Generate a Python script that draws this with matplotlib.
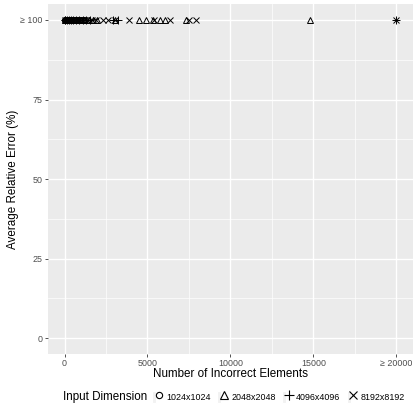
import matplotlib
matplotlib.use("Agg")
import matplotlib.pyplot as plt
from matplotlib.lines import Line2D
from matplotlib.patches import Rectangle
from matplotlib.legend_handler import HandlerTuple

plt.rcParams['font.family'] = ['Liberation Sans', 'DejaVu Sans']

# incorrect elements per run (capped at 20000), average relative error (capped at 100)
inc_1024 = [0, 15, 30, 50, 70, 95, 120, 150, 180, 210, 240, 270, 300, 340, 380, 420,
            460, 500, 550, 600, 650, 700, 760, 820, 880, 940, 1000, 1080, 1160, 1250, 1350]
err_1024 = [100] * len(inc_1024)
inc_2048 = [30, 90, 180, 300, 450, 620, 800, 1000, 1200, 1450, 1700, 1950, 3050,
            4500, 4900, 5350, 5750, 6050, 7350, 14800]
err_2048 = [100] * len(inc_2048)
inc_4096 = [10, 60, 140, 250, 380, 540, 700, 880, 1100, 1300, 1550, 2950, 3250, 20000]
err_4096 = [100] * len(inc_4096)
inc_8192 = [50, 200, 400, 650, 900, 1350, 1650, 1900, 2300, 2600, 3050, 3900, 5400,
            6350, 7500, 7950, 20000]
err_8192 = [100] * len(inc_8192)

labels = ["1024x1024", "2048x2048", "4096x4096", "8192x8192"]
markers = ["o", "^", "+", "x"]
msizes = [4.0, 5.0, 6.0, 5.0]

xticks = [0, 5000, 10000, 15000, 20000]
xticklabels = ["0", "5000", "10000", "15000", "\u2265 20000"]
yticks = [0, 25, 50, 75, 100]
yticklabels = ["0", "25", "50", "75", "\u2265 100"]

fig = plt.figure(figsize=(4.13, 4.07), dpi=100)
ax = fig.add_axes([0.116, 0.130, 0.884, 0.860])
ax.set_facecolor("#EBEBEB")
for s in ax.spines.values():
    s.set_visible(False)

ax.set_xlim(-1000, 21000)
ax.set_ylim(-5, 105)
ax.set_xticks(xticks)
ax.set_xticklabels(xticklabels)
ax.set_yticks(yticks)
ax.set_yticklabels(yticklabels)
ax.set_xticks([2500, 7500, 12500, 17500], minor=True)
ax.set_yticks([12.5, 37.5, 62.5, 87.5], minor=True)
ax.grid(which="major", color="white", lw=1.0)
ax.grid(which="minor", color="white", lw=0.5)
ax.set_axisbelow(True)
ax.tick_params(which="major", length=2.5, width=0.6, color="#333333",
               labelcolor="#4D4D4D", labelsize=6.4, pad=1.2)
ax.tick_params(which="minor", length=0)

series = [(inc_1024, err_1024), (inc_2048, err_2048), (inc_4096, err_4096), (inc_8192, err_8192)]
for (xs, ys), m, ms in zip(series, markers, msizes):
    ax.plot(xs, ys, ls="none", marker=m, ms=ms, mfc="none", mec="black", mew=0.7, clip_on=False)

ax.set_xlabel("Number of Incorrect Elements", fontsize=8.4, labelpad=0)
ax.set_ylabel("Average Relative Error (%)", fontsize=8.4, labelpad=1)

handles = []
for m, ms in zip(markers, msizes):
    box = Rectangle((0, 0), 1, 1, facecolor="#F2F2F2", edgecolor="white", lw=0.8)
    mk = Line2D([], [], ls="none", marker=m, ms=ms + 0.5, mfc="none", mec="black", mew=0.8)
    handles.append((box, mk))
fig.text(0.153, 0.025, "Input Dimension", fontsize=8.4, va="center", ha="left")
fig.legend(handles, labels, ncol=4, loc="center left", bbox_to_anchor=(0.368, 0.025),
           frameon=False, fontsize=6.4, handlelength=1.0, handleheight=1.6,
           handletextpad=0.6, columnspacing=0.7, borderpad=0, borderaxespad=0,
           handler_map={tuple: HandlerTuple(ndivide=None, pad=0)})

fig.savefig("out.png", dpi=100)
